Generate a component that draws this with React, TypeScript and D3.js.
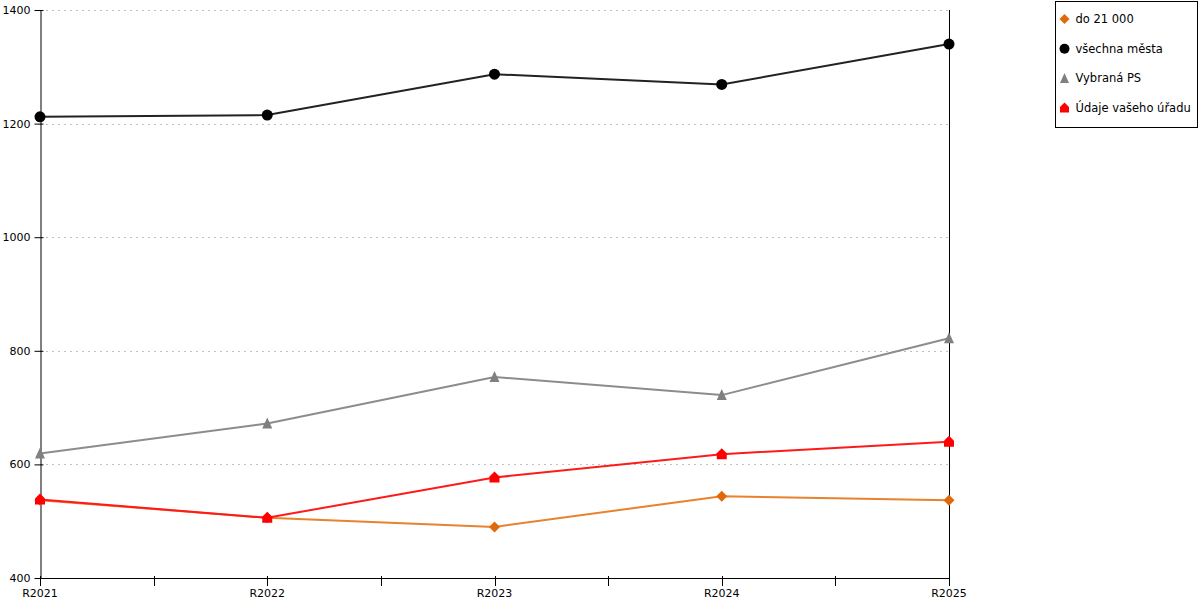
import { useRef, useEffect } from 'react';
import * as d3 from 'd3';

// Years on the x axis and the four series
const years = ['R2021', 'R2022', 'R2023', 'R2024', 'R2025'];
const yTicks = [400, 600, 800, 1000, 1200, 1400];

const do21000 = [537, 506, 490, 544, 537];
const vsechnaMesta = [1212, 1215, 1287, 1269, 1340];
const vybranaPS = [619, 672, 754, 722, 822];
const udajeUradu = [538, 506, 577, 618, 640];

type Shape = 'diamond' | 'circle' | 'triangle' | 'house';

const series: { name: string; values: number[]; line: string; marker: string; shape: Shape }[] = [
  { name: 'do 21 000', values: do21000, line: '#e8822e', marker: '#e06a0a', shape: 'diamond' },
  { name: 'všechna města', values: vsechnaMesta, line: '#222222', marker: '#000000', shape: 'circle' },
  { name: 'Vybraná PS', values: vybranaPS, line: '#8c8c8c', marker: '#808080', shape: 'triangle' },
  { name: 'Údaje vašeho úřadu', values: udajeUradu, line: '#ff1a1a', marker: '#ff0000', shape: 'house' },
];

function markerPath(shape: Shape, s = 5) {
  switch (shape) {
    case 'diamond':
      return `M0,${-s - 0.5}L${s + 0.5},0L0,${s + 0.5}L${-s - 0.5},0Z`;
    case 'circle':
      return d3.symbol(d3.symbolCircle, Math.PI * (s + 0.5) * (s + 0.5))() || '';
    case 'triangle':
      return `M0,${-s - 1}L${s},${s}L${-s},${s}Z`;
    case 'house':
      return `M0,${-s - 1}L${s},${-1}L${s},${s}L${-s},${s}L${-s},${-1}Z`;
  }
}

export default function App() {
  const svgRef = useRef<SVGSVGElement>(null);

  useEffect(() => {
    if (!svgRef.current) return;
    const svg = d3.select(svgRef.current);
    svg.selectAll('*').remove();

    const font = '"DejaVu Sans", Verdana, sans-serif';
    const left = 40;
    const right = 949;
    const top = 10;
    const bottom = 578;

    const x = d3.scalePoint<string>().domain(years).range([left, right]);
    const y = d3.scaleLinear().domain([400, 1400]).range([bottom, top]);

    // Grid lines
    svg
      .append('g')
      .selectAll('line')
      .data(yTicks.filter((t) => t > 400))
      .join('line')
      .attr('x1', left)
      .attr('x2', right)
      .attr('y1', (d) => Math.round(y(d)) + 0.5)
      .attr('y2', (d) => Math.round(y(d)) + 0.5)
      .attr('stroke', '#c0c0c0')
      .attr('stroke-width', 1)
      .attr('stroke-dasharray', '2,4');

    // Y axis
    const yAxis = svg
      .append('g')
      .attr('transform', `translate(${left + 0.5},0)`)
      .call(d3.axisLeft(y).tickValues(yTicks).tickSize(6).tickSizeOuter(0).tickFormat(d3.format('d')));
    yAxis.select('.domain').attr('stroke', '#000');
    yAxis.selectAll('.tick line').attr('stroke', '#000').attr('x2', -6).attr('x1', 3);
    yAxis.selectAll('text').attr('font-family', font).attr('font-size', 11).attr('fill', '#000').attr('x', -10);

    // X axis: ticks at each year and halfway between
    const mids = years.slice(1).map((_, i) => ((x(years[i]) as number) + (x(years[i + 1]) as number)) / 2);
    const xg = svg.append('g');
    xg.append('line')
      .attr('x1', left)
      .attr('x2', right + 1)
      .attr('y1', bottom + 0.5)
      .attr('y2', bottom + 0.5)
      .attr('stroke', '#000');
    xg.selectAll('line.tick')
      .data([...years.map((d) => x(d) as number), ...mids])
      .join('line')
      .attr('class', 'tick')
      .attr('x1', (d) => Math.round(d) + 0.5)
      .attr('x2', (d) => Math.round(d) + 0.5)
      .attr('y1', bottom - 2)
      .attr('y2', bottom + 8)
      .attr('stroke', '#000');
    xg.selectAll('text')
      .data(years)
      .join('text')
      .attr('x', (d) => x(d) as number)
      .attr('y', bottom + 19)
      .attr('text-anchor', 'middle')
      .attr('font-family', font)
      .attr('font-size', 11)
      .attr('fill', '#000')
      .text((d) => d);

    // Right border line
    svg
      .append('line')
      .attr('x1', right + 0.5)
      .attr('x2', right + 0.5)
      .attr('y1', top)
      .attr('y2', bottom + 8)
      .attr('stroke', '#000');

    const line = d3
      .line<number>()
      .x((_, i) => x(years[i]) as number)
      .y((d) => y(d));

    series.forEach((s) => {
      svg
        .append('path')
        .datum(s.values)
        .attr('fill', 'none')
        .attr('stroke', s.line)
        .attr('stroke-width', 2)
        .attr('d', line);
      svg
        .append('g')
        .selectAll('path')
        .data(s.values)
        .join('path')
        .attr('transform', (d, i) => `translate(${x(years[i])},${y(d)})`)
        .attr('d', markerPath(s.shape))
        .attr('fill', s.marker);
    });

    // Legend
    const legend = svg.append('g').attr('transform', 'translate(1055.5,1.5)');
    legend
      .append('rect')
      .attr('width', 142)
      .attr('height', 126)
      .attr('fill', '#fff')
      .attr('stroke', '#000');
    const item = legend
      .selectAll('g')
      .data(series)
      .join('g')
      .attr('transform', (_, i) => `translate(9,${17.5 + i * 29.7})`);
    item.append('path').attr('d', (d) => markerPath(d.shape, 4.5)).attr('fill', (d) => d.marker);
    item
      .append('text')
      .attr('x', 11)
      .attr('y', 4)
      .attr('font-family', font)
      .attr('font-size', 11.5)
      .attr('fill', '#000')
      .text((d) => d.name);
  }, []);

  return (
    <svg
      ref={svgRef}
      width={1200}
      height={600}
      style={{ position: 'absolute', left: 0, top: 0, background: '#fff' }}
    />
  );
}
